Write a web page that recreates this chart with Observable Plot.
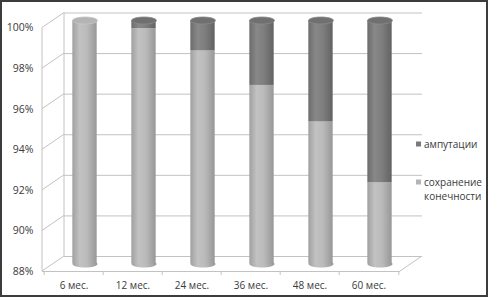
<!DOCTYPE html>
<html><head><meta charset="utf-8">
<script src="https://cdn.jsdelivr.net/npm/d3@7"></script>
<script src="https://cdn.jsdelivr.net/npm/@observablehq/plot@0.6"></script>
<style>
html,body{margin:0;padding:0;background:#fff;}
#wrap{position:relative;width:488px;height:297px;overflow:hidden;}
#frame{position:absolute;left:0;top:0;width:488px;height:297px;box-sizing:border-box;border:2px solid #3c3c3c;pointer-events:none;}
</style></head><body>
<div id="wrap"><div id="chart"></div><div id="frame"></div></div>
<script>
// ---- data ----
const categories = ["6 мес.","12 мес.","24 мес.","36 мес.","48 мес.","60 мес."];
const preserved  = [100, 99.6, 98.5, 96.8, 95.0, 92.0];   // сохранение конечности, %
const amputated  = [0, 0.4, 1.5, 3.2, 5.0, 8.0];          // ампутации, %
const yTicks     = [88, 90, 92, 94, 96, 98, 100];
const seriesNames = ["ампутации", "сохранение конечности"];

const rows = categories.map((c, i) => ({cat: c, save: preserved[i], amp: amputated[i], top: preserved[i] + amputated[i]}));
const yMin = yTicks[0];

// ---- layout / style ----
const W = 488, H = 297, mL = 42, mR = 88, mT = 27.5, mB = 26;
const DX = 22, DY = -15;          // back wall offset (3D depth)
const CX = 11, CY = -7.5;         // cylinder mid-depth offset
const step = (W - mL - mR) / categories.length;
const cylW = 25;
const inset = (step - cylW) / 2;
const RX = cylW / 2, RY = 3.5;
const gridColor = "#c2c2c2", textColor = "#3a3a3a";

const ellipse = {
  draw(ctx) {
    const k = 0.5523;
    ctx.moveTo(RX, 0);
    ctx.bezierCurveTo(RX, k * RY, k * RX, RY, 0, RY);
    ctx.bezierCurveTo(-k * RX, RY, -RX, k * RY, -RX, 0);
    ctx.bezierCurveTo(-RX, -k * RY, -k * RX, -RY, 0, -RY);
    ctx.bezierCurveTo(k * RX, -RY, RX, -k * RY, RX, 0);
    ctx.closePath();
  }
};

const chart = Plot.plot({
  width: W, height: H,
  marginLeft: mL, marginRight: mR, marginTop: mT, marginBottom: mB,
  style: {fontFamily: "'Open Sans', sans-serif", fontSize: "10px", color: textColor, background: "#fff"},
  x: {domain: categories, padding: 0, label: null, axis: null},
  y: {domain: [yMin, 100], label: null, axis: null},
  marks: [
    // back wall gridlines
    Plot.ruleY(yTicks, {dx: DX, dy: DY, stroke: gridColor}),
    // front floor edge
    Plot.ruleY([yMin], {stroke: gridColor}),
    // category boundary ticks
    Plot.ruleX(categories, {x: d => d, dx: -step / 2, y1: () => yMin, y2: () => yMin, insetBottom: -4, stroke: gridColor}),
    Plot.ruleX(categories.slice(-1), {x: d => d, dx: step / 2, y1: () => yMin, y2: () => yMin, insetBottom: -4, stroke: gridColor}),
    // cylinder bottoms
    Plot.dot(rows, {x: "cat", y: () => yMin, dx: CX, dy: CY, symbol: ellipse, r: 5, fill: "url(#gLight)", stroke: "none"}),
    // сохранение
    Plot.barY(rows, {x: "cat", y1: () => yMin, y2: "save", dx: CX, dy: CY, insetLeft: inset, insetRight: inset, fill: "url(#gLight)"}),
    // ампутации
    Plot.barY(rows.filter(d => d.amp > 0), {x: "cat", y1: "save", y2: "top", dx: CX, dy: CY, insetLeft: inset, insetRight: inset, fill: "url(#gDark)"}),
    // tops
    Plot.dot(rows.filter(d => d.amp > 0), {x: "cat", y: "top", dx: CX, dy: CY, symbol: ellipse, r: 5, fill: "#707070", stroke: "#8a8a8a", strokeWidth: 0.8}),
    Plot.dot(rows.filter(d => !(d.amp > 0)), {x: "cat", y: "top", dx: CX, dy: CY, symbol: ellipse, r: 5, fill: "#b4b4b4", stroke: "#c6c6c6", strokeWidth: 0.8}),
    // axes
    Plot.axisY(yTicks, {tickSize: 0, tickPadding: 9, tickFormat: d => d + "%", fill: textColor, fontSize: 10.5}),
    Plot.axisX({tickSize: 0, tickPadding: 10, fill: textColor, fontSize: 10, label: null})
  ]
});
document.getElementById("chart").appendChild(chart);

// ---- 3D wireframe, gradients and legend ----
const svg = d3.select(chart);
const y = chart.scale("y");
const defs = svg.insert("defs", ":first-child");
function grad(id, stops) {
  const g = defs.append("linearGradient").attr("id", id).attr("x1", 0).attr("x2", 1).attr("y1", 0).attr("y2", 0);
  stops.forEach(([o, c]) => g.append("stop").attr("offset", o).attr("stop-color", c));
}
grad("gLight", [[0, "#a0a0a0"], [0.3, "#c2c2c2"], [0.6, "#bababa"], [1, "#979797"]]);
grad("gDark", [[0, "#6c6c6c"], [0.3, "#888888"], [0.6, "#7e7e7e"], [1, "#626262"]]);

const wire = svg.append("g").attr("stroke", gridColor).attr("fill", "none");
yTicks.forEach(v => {
  const yy = y.apply(v);
  wire.append("line").attr("x1", mL).attr("y1", yy).attr("x2", mL + DX).attr("y2", yy + DY);
});
const y0 = y.apply(yMin), y1 = y.apply(100);
wire.append("line").attr("x1", W - mR).attr("y1", y0).attr("x2", W - mR + DX).attr("y2", y0 + DY);
wire.append("line").attr("x1", mL).attr("y1", y1).attr("x2", mL).attr("y2", y0);
wire.append("line").attr("x1", mL + DX).attr("y1", y1 + DY).attr("x2", mL + DX).attr("y2", y0 + DY);

const lg = svg.append("g").attr("font-family", "'Open Sans', sans-serif").attr("font-size", 10).attr("fill", textColor).attr("text-anchor", "start");
lg.append("rect").attr("x", 416).attr("y", 141.5).attr("width", 5).attr("height", 5).attr("fill", "#7a7a7a");
lg.append("text").attr("x", 424).attr("y", 144).attr("dy", "0.35em").text(seriesNames[0]);
lg.append("rect").attr("x", 416).attr("y", 179.5).attr("width", 5).attr("height", 5).attr("fill", "#b4b4b4");
const words = seriesNames[1].split(" ");
lg.append("text").attr("x", 424).attr("y", 182).attr("dy", "0.35em").text(words[0]);
lg.append("text").attr("x", 424).attr("y", 196).attr("dy", "0.35em").text(words[1]);
</script>
</body></html>
